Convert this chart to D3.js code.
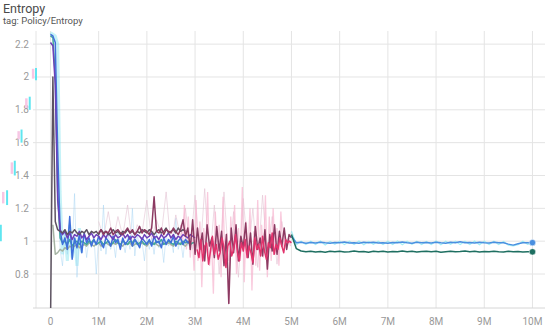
<!DOCTYPE html>
<html>
<head>
<meta charset="utf-8">
<script src="https://cdn.jsdelivr.net/npm/d3@7"></script>
<style>
  body { margin: 0; background: #fff; }
  svg { font-family: Roboto, 'Noto Sans', sans-serif; }
</style>
</head>
<body>
<svg id="chart" width="550" height="331"></svg>
<script>
// steps are in millions, values are entropy
const xTicks = [0, 1, 2, 3, 4, 5, 6, 7, 8, 9, 10];
const xTickLabels = ['0', '1M', '2M', '3M', '4M', '5M', '6M', '7M', '8M', '9M', '10M'];
const yTicks = [0.8, 1, 1.2, 1.4, 1.6, 1.8, 2, 2.2];

// smoothed runs: [start step, step interval]
const blueRun = [0, 0.05];
const blueVals = [2.26, 2.25, 2.21, 1.55, 1.07, 0.98, 1.02, 0.95, 1.15, 0.89,
  1.02, 0.96, 1.04, 0.93, 1.05, 0.99, 1.02, 0.97, 1.01, 0.98,
  1.03, 0.99, 0.96, 1.02, 1.00, 0.97, 1.03, 0.99, 1.01, 0.95,
  1.02, 0.98, 1.00, 1.03, 0.97, 1.01, 0.99, 0.96, 1.02, 1.00,
  0.98, 1.01, 0.97, 1.03, 0.99, 1.00, 0.96, 1.02, 0.98, 1.01,
  0.99, 1.03, 0.97, 1.00, 1.02, 0.98, 1.01, 0.99, 1.00];

const purpleRun = [0, 0.05];
const purpleVals = [2.21, 2.19, 1.95, 1.25, 1.07, 1.04, 1.06, 1.02, 1.05, 1.01,
  1.04, 1.03, 1.06, 1.02, 1.04, 1.01, 1.03, 1.05, 1.02, 1.04,
  1.03, 1.01, 1.04, 1.02, 1.05, 1.03, 1.01, 1.04, 1.02, 1.03,
  1.05, 1.02, 1.04, 1.01, 1.03, 1.02, 1.04, 1.03, 1.01, 1.04,
  1.02, 1.03, 1.05, 1.02, 1.03, 1.01, 1.04, 1.02, 1.03, 1.05,
  1.02, 1.04, 1.01, 1.03, 1.02, 1.04, 1.03, 1.02, 1.04, 1.03, 1.02];

const grayRun = [0, 0.05];
const grayVals = [0.45, 2.0, 1.12, 1.07, 1.06, 1.05, 1.07, 1.04, 1.06, 1.05,
  1.07, 1.05, 1.04, 1.06, 1.05, 1.07, 1.04, 1.06, 1.05, 1.06,
  1.04, 1.07, 1.05, 1.06, 1.04, 1.05, 1.07, 1.05, 1.06, 1.04,
  1.06, 1.05, 1.07, 1.05, 1.06, 1.04, 1.06, 1.05, 1.07, 1.06,
  1.05, 1.07, 1.06, 1.04, 1.06, 1.07, 1.05, 1.06, 1.08, 1.05,
  1.06, 1.07, 1.05, 1.08, 1.06, 1.07, 1.06];

const mauveRun = [1.0, 0.05];
const mauveVals = [1.05, 1.07, 1.04, 1.06, 1.05, 1.08, 1.04, 1.06, 1.07, 1.05,
  1.04, 1.06, 1.08, 1.05, 1.07, 1.04, 1.06, 1.09, 1.05, 1.07,
  1.06, 1.04, 1.08, 1.27, 1.06, 1.05, 1.08, 1.04, 1.07, 1.06,
  1.05, 1.08, 1.06, 1.04, 1.07, 1.13, 1.03, 1.08, 0.95, 1.13,
  0.92, 1.08, 0.95, 1.05, 0.88, 1.10, 0.97, 1.02, 0.90, 1.09,
  0.94, 1.06, 0.85, 1.04, 0.62, 1.08, 0.93, 1.10, 0.88, 1.03,
  0.96, 1.11, 0.90, 1.05, 0.86, 1.09, 0.95, 1.02, 0.91, 1.07,
  0.83, 1.04, 0.94, 1.10, 0.92, 1.06, 0.97, 1.08, 0.95, 1.04, 1.02];

const greenGrayRun = [0.05, 0.05];
const greenGrayVals = [1.10, 0.92, 0.93, 0.95, 0.94, 0.96, 0.95, 0.97, 0.96, 0.97,
  0.98, 0.96, 0.97, 0.98, 0.97, 0.99, 0.98, 0.97, 0.98, 0.99,
  0.97, 0.98, 0.99, 0.98, 0.97, 0.99, 0.98, 0.99, 0.98, 0.97,
  0.99, 0.98, 0.99, 0.97, 0.98, 0.99, 0.98, 0.99, 0.98, 0.97,
  0.99, 0.98, 0.99, 0.98, 0.97, 0.98, 0.99, 0.98, 0.99, 0.98,
  0.97, 0.99, 0.98, 0.99, 0.98, 0.97, 0.99, 0.98, 0.99];

const tealRun = [0, 0.05];
const tealVals = [2.25, 2.24, 2.0, 1.3, 1.02, 0.99, 1.00, 0.98, 1.01, 0.97,
  0.99, 1.00, 0.98, 1.00, 0.99, 0.98, 1.00, 0.99, 1.01, 0.98,
  0.99, 1.00, 0.98, 0.99, 1.00, 0.98, 0.99, 1.01, 0.99, 0.98,
  1.00, 0.99, 0.98, 1.00, 0.99, 1.01, 0.98, 0.99, 1.00, 0.98,
  0.99, 1.00, 0.99, 0.98, 1.00, 0.99, 1.01, 0.98, 0.99, 1.00,
  0.99, 0.98, 1.00, 0.99, 0.98, 1.00, 0.99, 1.00, 0.98, 0.99, 0.99];

const pinkRun = [3.04, 0.04];
const pinkVals = [0.95, 0.90, 1.01, 0.88, 0.97, 0.99, 0.86, 0.94, 1.03, 0.92,
  0.98, 0.89, 0.93, 1.02, 0.96, 0.84, 0.97, 1.00, 0.91, 0.95,
  1.04, 0.93, 0.88, 0.99, 0.94, 1.01, 0.90, 0.97, 0.93, 0.87,
  1.02, 0.95, 0.98, 0.91, 1.03, 0.94, 0.89, 0.99, 0.96, 1.05,
  0.92, 0.98, 0.95, 1.02, 0.97, 0.93, 1.01, 0.99, 1.00, 0.99];

const blue2Run = [5.0, 0.1];
const blue2Vals = [1.03, 0.99, 0.993, 0.988, 0.992, 0.989, 0.994, 0.990, 0.987, 0.992,
  0.990, 0.995, 0.989, 0.991, 0.988, 0.993, 0.990, 0.994, 0.989, 0.991,
  0.987, 0.992, 0.990, 0.995, 0.991, 0.988, 0.993, 0.990, 0.992, 0.989,
  0.994, 0.990, 0.988, 0.993, 0.991, 0.996, 0.990, 0.992, 0.989, 0.994,
  0.991, 0.989, 0.993, 0.990, 0.990, 0.982, 0.976, 0.984, 0.990, 0.991, 0.991];

const teal2Run = [5.0, 0.1];
const teal2Vals = [1.04, 0.955, 0.940, 0.936, 0.939, 0.934, 0.937, 0.933, 0.938, 0.935,
  0.939, 0.934, 0.936, 0.940, 0.935, 0.937, 0.933, 0.938, 0.936, 0.939,
  0.934, 0.937, 0.935, 0.940, 0.936, 0.938, 0.934, 0.937, 0.939, 0.935,
  0.938, 0.933, 0.936, 0.939, 0.935, 0.937, 0.940, 0.936, 0.938, 0.934,
  0.937, 0.935, 0.939, 0.936, 0.934, 0.938, 0.936, 0.937, 0.934, 0.935, 0.935];

// raw (unsmoothed) runs drawn faint underneath
const rawBlueRun = [0.15, 0.05];
const rawBlueVals = [1.30, 0.95, 0.85, 1.05, 0.92, 1.10, 0.95, 1.29, 0.78, 1.02,
  0.93, 1.05, 0.90, 1.01, 0.96, 1.04, 0.80, 1.02, 0.94, 1.22,
  0.92, 1.04, 0.95, 1.01, 0.90, 1.06, 0.96, 1.00, 0.93, 1.03,
  0.95, 1.20, 0.91, 1.04, 0.96, 1.00, 0.88, 1.03, 0.95, 1.02,
  0.92, 1.05, 0.96, 1.01, 0.87, 1.04, 0.97, 1.02, 0.93, 1.14,
  0.95, 1.01, 0.90, 1.03, 0.97, 1.02, 0.95];

const rawTealRun = [0, 0.05];
const rawTealVals = [2.27, 2.26, 2.25, 2.2, 1.3, 0.92, 1.05, 0.88, 1.1, 0.9, 1.02, 0.85, 1.08, 0.93];

const rawMauveRun = [1.0, 0.1];
const rawMauveVals = [1.12, 1.02, 1.18, 1.00, 1.15, 1.03, 1.22, 0.98, 1.10, 1.05,
  1.25, 1.01, 1.13, 1.04, 1.30, 0.97, 1.16, 1.02, 1.20, 0.95,
  1.28, 0.90, 1.32, 0.85, 1.22, 0.80, 1.30, 0.88, 1.18, 0.78,
  1.26, 0.92, 1.20, 0.84, 1.28, 0.90, 1.15, 0.86, 1.12, 0.95, 1.06];

const rawPinkRun = [2.7, 0.04];
const rawPinkVals = [1.10, 0.98, 1.22, 0.95, 1.15, 0.90, 1.05, 0.82, 1.25, 0.88,
  1.12, 0.72, 1.08, 0.93, 1.30, 0.85, 1.02, 0.68, 1.18, 0.90,
  1.10, 0.78, 1.27, 0.86, 1.05, 0.62, 1.15, 0.92, 1.22, 0.80,
  1.08, 0.88, 1.33, 0.75, 1.12, 0.94, 1.20, 0.70, 1.06, 0.85,
  1.25, 0.82, 1.10, 0.90, 1.28, 0.78, 1.15, 0.88, 1.20, 0.92,
  1.08, 0.85, 1.18, 0.95, 1.05, 0.98, 1.02, 0.97];

const rawBlue2Run = [5.0, 0.1];
const rawBlue2Vals = [1.06, 0.978, 1.0, 0.979, 0.999, 0.980, 1.001, 0.977, 0.998, 0.981,
  1.000, 0.979, 0.999, 0.980, 1.001, 0.978, 0.998, 0.981, 1.000, 0.979,
  0.999, 0.980, 1.001, 0.978, 0.999, 0.981, 1.000, 0.979, 0.998, 0.980,
  1.001, 0.978, 0.999, 0.981, 1.000, 0.979, 0.999, 0.980, 1.001, 0.978,
  0.999, 0.980, 1.000, 0.979, 0.998, 0.975, 0.972, 0.978, 0.999, 0.981, 0.99];

// stray marks left of the axis: [step, value from, value to]
const strayCyan = [[-0.3, 2.055, 1.98], [-0.43, 1.88, 1.8], [-0.6, 1.68, 1.6], [-0.74, 1.49, 1.4], [-0.9, 1.31, 1.22], [-1.03, 1.1, 1.0]];
const strayPink = [[-0.36, 2.05, 1.99], [-0.5, 1.87, 1.81], [-0.66, 1.67, 1.62], [-0.8, 1.48, 1.41], [-0.98, 1.3, 1.23]];

const svg = d3.select('#chart');
const plot = { left: 36, right: 545, top: 31, bottom: 308 };

const x = d3.scaleLinear().domain([-0.3, 10.26]).range([plot.left, plot.right]);
const y = d3.scaleLinear().domain([0.593, 2.28]).range([plot.bottom, plot.top]);

svg.append('text').attr('x', 3).attr('y', 12.5)
    .style('font-size', '12.5px').style('fill', '#4a4a4a').text('Entropy');
svg.append('text').attr('x', 3).attr('y', 23.5)
    .style('font-size', '9.5px').style('fill', '#555').text('tag: Policy/Entropy');

// grid
svg.append('g').selectAll('line').data(yTicks).enter().append('line')
    .attr('x1', 33).attr('x2', plot.right)
    .attr('y1', d => y(d)).attr('y2', d => y(d))
    .style('stroke', '#e4e4e4');
svg.append('g').selectAll('line').data(xTicks).enter().append('line')
    .attr('x1', d => x(d)).attr('x2', d => x(d))
    .attr('y1', plot.top).attr('y2', plot.bottom)
    .style('stroke', '#e4e4e4');
svg.append('line').attr('x1', plot.left).attr('x2', plot.left)
    .attr('y1', plot.top).attr('y2', plot.bottom).style('stroke', '#e4e4e4');
svg.append('line').attr('x1', 33).attr('x2', plot.right)
    .attr('y1', plot.bottom).attr('y2', plot.bottom).style('stroke', '#d6d6d6');

// tick labels
svg.append('g').selectAll('text').data(yTicks).enter().append('text')
    .attr('x', 29).attr('y', d => y(d)).attr('dy', '0.35em')
    .attr('text-anchor', 'end')
    .style('font-size', '10px').style('fill', '#999')
    .text(d => d3.format('~g')(d));
svg.append('g').selectAll('text').data(xTicks).enter().append('text')
    .attr('x', d => x(d)).attr('y', 325)
    .attr('text-anchor', 'middle')
    .style('font-size', '10px').style('fill', '#999')
    .text((d, i) => xTickLabels[i]);

// stray marks
svg.append('g').selectAll('line').data(strayPink).enter().append('line')
    .attr('x1', d => x(d[0])).attr('x2', d => x(d[0]))
    .attr('y1', d => y(d[1])).attr('y2', d => y(d[2]))
    .style('stroke', '#f7c6e4').style('stroke-width', 2.5);
svg.append('g').selectAll('line').data(strayCyan).enter().append('line')
    .attr('x1', d => x(d[0])).attr('x2', d => x(d[0]))
    .attr('y1', d => y(d[1])).attr('y2', d => y(d[2]))
    .style('stroke', '#5fe6f0').style('stroke-width', 2);

svg.append('clipPath').attr('id', 'clip').append('rect')
    .attr('x', plot.left).attr('y', plot.top - 6)
    .attr('width', plot.right - plot.left).attr('height', plot.bottom - plot.top + 6);

const toPoints = (run, vals) => vals.map((v, i) => [run[0] + i * run[1], v]);
const line = d3.line().x(d => x(d[0])).y(d => y(d[1]));

const raws = [
  { run: rawTealRun, vals: rawTealVals, color: '#7fe3ee', width: 3, opacity: 0.45 },
  { run: rawBlueRun, vals: rawBlueVals, color: '#9fd0f2', width: 1, opacity: 0.45 },
  { run: rawMauveRun, vals: rawMauveVals, color: '#e3c2d2', width: 1, opacity: 0.6 },
  { run: rawPinkRun, vals: rawPinkVals, color: '#f7b3cf', width: 1.3, opacity: 0.7 },
  { run: rawBlue2Run, vals: rawBlue2Vals, color: '#8eeaf2', width: 1.2, opacity: 0.8 },
];
const runs = [
  { run: greenGrayRun, vals: greenGrayVals, color: '#a5b3a3' },
  { run: tealRun, vals: tealVals, color: '#3fa89b' },
  { run: blueRun, vals: blueVals, color: '#3f6fdb' },
  { run: purpleRun, vals: purpleVals, color: '#6d40b9' },
  { run: grayRun, vals: grayVals, color: '#5d5361' },
  { run: mauveRun, vals: mauveVals, color: '#8c3a62' },
  { run: pinkRun, vals: pinkVals, color: '#e2336c' },
  { run: blue2Run, vals: blue2Vals, color: '#4a8fe0', dot: true },
  { run: teal2Run, vals: teal2Vals, color: '#1e6f61', dot: true },
];

const g = svg.append('g').attr('clip-path', 'url(#clip)');
g.selectAll('path.raw').data(raws).enter().append('path')
    .attr('class', 'raw')
    .attr('d', s => line(toPoints(s.run, s.vals)))
    .style('fill', 'none')
    .style('stroke', s => s.color)
    .style('stroke-width', s => s.width)
    .style('opacity', s => s.opacity);
g.selectAll('path.run').data(runs).enter().append('path')
    .attr('class', 'run')
    .attr('d', s => line(toPoints(s.run, s.vals)))
    .style('fill', 'none')
    .style('stroke', s => s.color)
    .style('stroke-width', 1.5)
    .style('stroke-linejoin', 'round');

svg.append('g').selectAll('circle').data(runs.filter(s => s.dot)).enter().append('circle')
    .attr('cx', s => x(s.run[0] + (s.vals.length - 1) * s.run[1]))
    .attr('cy', s => y(s.vals[s.vals.length - 1]))
    .attr('r', 3.2)
    .style('fill', s => s.color)
    .style('stroke', '#fff').style('stroke-width', 0.5);
</script>
</body>
</html>
